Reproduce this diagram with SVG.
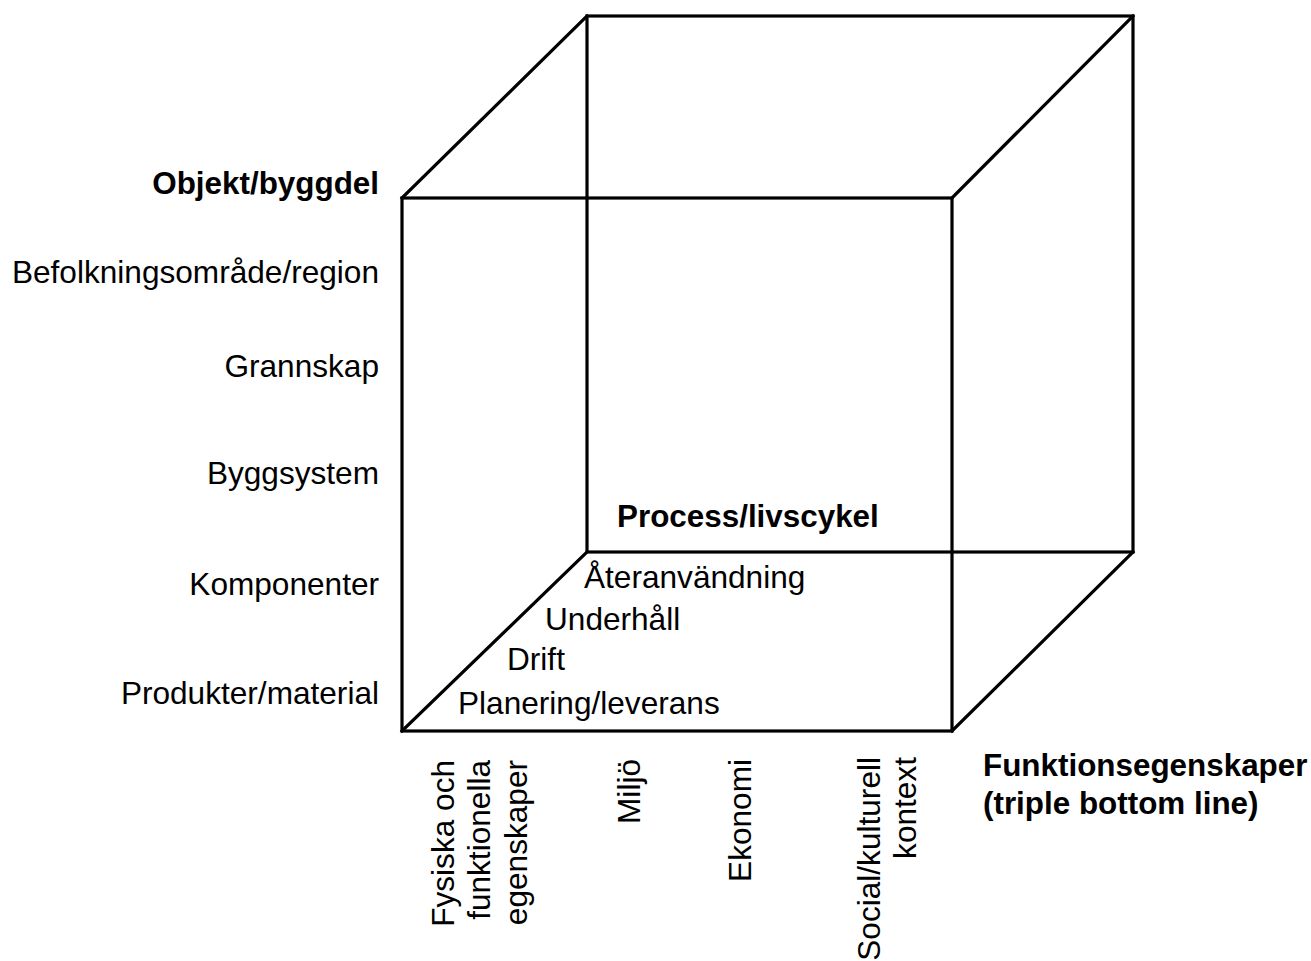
<svg xmlns="http://www.w3.org/2000/svg" width="1311" height="961" viewBox="0 0 1311 961">
<style>
  .t { font-family: "Liberation Sans", Arial, sans-serif; font-size: 31.6px; fill: #000; }
  .b { font-weight: bold; font-size: 31.4px; }
  .e { text-anchor: end; }
  .ln { stroke: #000; stroke-width: 3.2; fill: none; stroke-linecap: square; stroke-linejoin: miter; }
</style>
<rect width="1311" height="961" fill="#fff"/>
<g id="connectors">
  <rect class="ln" x="587" y="16" width="546" height="536"/>
  <line class="ln" x1="402" y1="198" x2="587" y2="16"/>
  <line class="ln" x1="952" y1="198" x2="1133" y2="16"/>
  <line class="ln" x1="402" y1="731" x2="587" y2="552"/>
  <line class="ln" x1="952" y1="731" x2="1133" y2="552"/>
  <rect class="ln" x="402" y="198" width="550" height="533"/>
</g>
<g id="axis-objekt">
  <text class="t b e" x="379" y="194">Objekt/byggdel</text>
  <text class="t e" x="379" y="283">Befolkningsområde/region</text>
  <text class="t e" x="379" y="377">Grannskap</text>
  <text class="t e" x="379" y="484">Byggsystem</text>
  <text class="t e" x="379" y="595">Komponenter</text>
  <text class="t e" x="379" y="704">Produkter/material</text>
</g>
<g id="axis-process">
  <text class="t b" x="617" y="527">Process/livscykel</text>
  <text class="t" x="584" y="588">Återanvändning</text>
  <text class="t" x="545" y="630">Underhåll</text>
  <text class="t" x="507" y="670">Drift</text>
  <text class="t" x="458" y="714">Planering/leverans</text>
</g>
<g id="axis-funktion">
  <text class="t b" x="983" y="776">Funktionsegenskaper</text>
  <text class="t b" x="983" y="814">(triple bottom line)</text>
  <text class="t e" transform="translate(454,760) rotate(-90)">Fysiska och</text>
  <text class="t e" transform="translate(490,760) rotate(-90)">funktionella</text>
  <text class="t e" transform="translate(527,760) rotate(-90)">egenskaper</text>
  <text class="t e" transform="translate(640,759) rotate(-90)">Miljö</text>
  <text class="t e" transform="translate(751,759) rotate(-90)">Ekonomi</text>
  <text class="t e" transform="translate(880,757) rotate(-90)">Social/kulturell</text>
  <text class="t e" transform="translate(916,757) rotate(-90)">kontext</text>
</g>
</svg>
